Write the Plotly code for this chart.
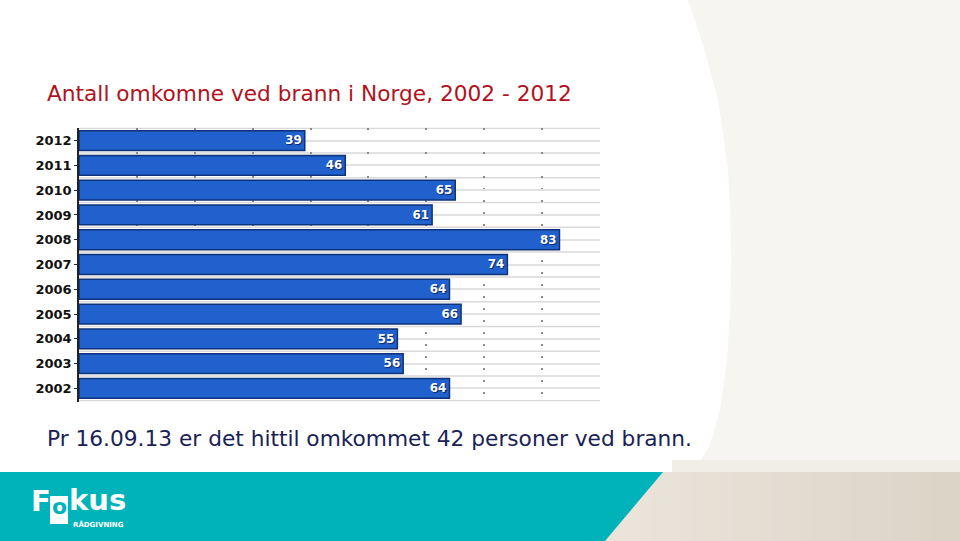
import plotly.graph_objects as go

years = ["2012", "2011", "2010", "2009", "2008", "2007", "2006", "2005", "2004", "2003", "2002"]
deaths = [39, 46, 65, 61, 83, 74, 64, 66, 55, 56, 64]
x_max = 90

title_text = "Antall omkomne ved brann i Norge, 2002 - 2012"
note_text = "Pr 16.09.13 er det hittil omkommet 42 personer ved brann."

W, H = 960, 541
def px(x):
    return x / W
def py(y):
    return 1 - y / H

fig = go.Figure()
fig.add_trace(go.Bar(
    y=years, x=deaths, orientation="h",
    marker=dict(color="#2161CD", line=dict(color="#0F327A", width=1.5)),
    text=[str(v) for v in deaths],
    textposition="inside", insidetextanchor="end",
    textfont=dict(family="DejaVu Sans", size=15.5, color="white", weight="bold",
                  shadow="1px 1px 1px #0A2660"),
    cliponaxis=False, hoverinfo="skip",
))

shapes = []
# right background area with curved edge
pts = [(688, 0), (700, 35), (710, 70), (718, 100), (723, 133), (728, 170), (730, 210),
       (731, 260), (730, 310), (727, 360), (720, 410), (710, 445), (700, 462), (672, 472),
       (960, 472), (960, 0)]
path = "M " + " L ".join(f"{px(x):.5f},{py(y):.5f}" for x, y in pts) + " Z"
shapes.append(dict(type="path", xref="paper", yref="paper", path=path,
                   fillcolor="#F7F5F1", line=dict(width=0), layer="below"))
shapes.append(dict(type="rect", xref="paper", yref="paper", x0=px(672), x1=1, y0=py(472), y1=py(460),
                   fillcolor="#F1EDE7", line=dict(width=0), layer="below"))
# footer beige with soft horizontal gradient
c0, c1 = (0xEB, 0xE5, 0xDC), (0xDC, 0xD3, 0xC6)
for x0 in range(600, 960, 10):
    t = (x0 - 600) / 360
    col = "rgb(%d,%d,%d)" % tuple(round(a + (b - a) * t) for a, b in zip(c0, c1))
    shapes.append(dict(type="rect", xref="paper", yref="paper", x0=px(x0), x1=px(min(x0 + 11, 960)),
                       y0=0, y1=py(472), fillcolor=col, line=dict(width=0), layer="below"))
# footer teal (slanted right edge)
tp = [(0, 472), (663, 472), (605, 541), (0, 541)]
shapes.append(dict(type="path", xref="paper", yref="paper",
                   path="M " + " L ".join(f"{px(x):.5f},{py(y):.5f}" for x, y in tp) + " Z",
                   fillcolor="#00B3BB", line=dict(width=0), layer="below"))
# logo box behind 'o'
shapes.append(dict(type="rect", xref="paper", yref="paper", x0=px(50), x1=px(68), y0=py(524), y1=py(496),
                   fillcolor="white", line=dict(width=0), layer="above"))
# horizontal row-boundary lines
for i in range(len(years) + 1):
    shapes.append(dict(type="line", xref="x", yref="y", x0=0, x1=x_max, y0=i - 0.5, y1=i - 0.5,
                       line=dict(color="#D9D9D9", width=1.5), layer="below"))

annotations = [
    dict(text=title_text, x=px(45), y=py(94), xref="paper", yref="paper", xanchor="left", yanchor="middle",
         showarrow=False, font=dict(family="DejaVu Sans", size=21.7, color="#B0121E")),
    dict(text=note_text, x=px(45), y=py(439), xref="paper", yref="paper", xanchor="left", yanchor="middle",
         showarrow=False, font=dict(family="DejaVu Sans", size=21.7, color="#1A2255")),
    dict(text="<b>F</b>", x=px(29), y=py(501), xref="paper", yref="paper", xanchor="left", yanchor="middle",
         showarrow=False, font=dict(family="DejaVu Sans", size=29, color="white")),
    dict(text="<b>o</b>", x=px(59), y=py(506), xref="paper", yref="paper", xanchor="center", yanchor="middle",
         showarrow=False, font=dict(family="DejaVu Sans", size=22, color="#00B3BB")),
    dict(text="<b>kus</b>", x=px(67), y=py(500), xref="paper", yref="paper", xanchor="left", yanchor="middle",
         showarrow=False, font=dict(family="DejaVu Sans", size=29, color="white")),
    dict(text="<b>RÅDGIVNING</b>", x=px(71), y=py(524), xref="paper", yref="paper", xanchor="left", yanchor="middle",
         showarrow=False, font=dict(family="DejaVu Sans", size=7, color="white")),
]

fig.update_layout(
    width=W, height=H, margin=dict(l=0, r=0, t=0, b=0),
    paper_bgcolor="white", plot_bgcolor="white",
    showlegend=False, bargap=0.2,
    shapes=shapes, annotations=annotations,
    xaxis=dict(domain=[px(79), px(600)], range=[0, x_max], dtick=10, showticklabels=False,
               showgrid=True, gridcolor="#8A8A8A", gridwidth=1.5, griddash="2px,10px",
               zeroline=False, showline=False, fixedrange=True),
    yaxis=dict(domain=[py(401.5), py(127.5)], autorange="reversed", type="category",
               showgrid=True, gridcolor="#E2E2E2", gridwidth=1.5,
               showline=True, linecolor="#222", linewidth=1.5,
               ticks="outside", ticklen=3, tickcolor="#222",
               tickfont=dict(family="DejaVu Sans", size=13, color="#111", weight="bold"),
               fixedrange=True),
)

fig.write_html("out.html")
